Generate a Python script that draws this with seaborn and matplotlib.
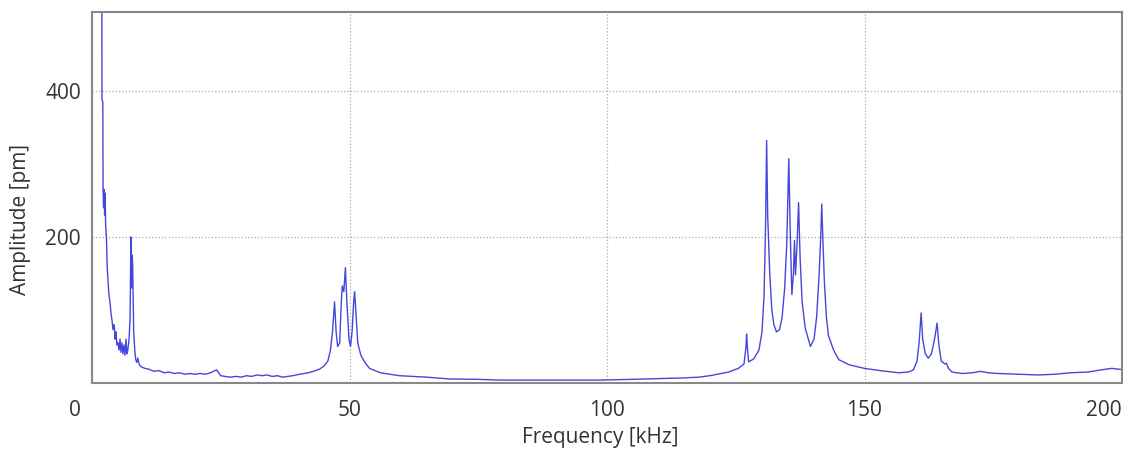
import numpy as np
import pandas as pd
import seaborn as sns
import matplotlib.pyplot as plt
from matplotlib.ticker import MultipleLocator
from matplotlib.transforms import ScaledTranslation

# spectrum points (frequency in kHz, amplitude in pm)
freq = [1.74, 1.90, 1.94, 2.10, 2.15, 2.25, 2.35, 2.45, 2.55, 2.65, 2.80, 2.95,
        3.10, 3.3, 3.5, 3.7, 3.9, 4.07, 4.3, 4.5, 4.65, 4.85, 5.04, 5.25, 5.45,
        5.62, 5.8, 6.0, 6.2, 6.4, 6.6, 6.78, 6.95, 7.2, 7.4, 7.55, 7.65, 7.8,
        7.9, 8.0, 8.1, 8.3, 8.5, 8.7, 8.9, 9.2, 9.6, 10.3, 11, 12, 13, 14,
        15, 16, 17, 18, 19, 20, 21, 22, 23, 24.2, 25, 26.7, 28, 29, 30, 31, 32,
        33, 34, 35, 36, 37, 38, 39, 40.3, 42, 43, 44.2, 45, 45.8, 46.3, 46.7,
        47.1, 47.4, 47.7, 48.1, 48.4, 48.6, 48.9, 49.2, 49.5, 49.9, 50.2, 50.5,
        50.8, 51.0, 51.3, 51.6, 52.2, 53.0, 53.9, 56, 59.7, 65, 69.4, 75, 79.1,
        85, 90, 98.4, 105, 110, 115, 117.8, 120, 123.6, 125.5, 126.6, 127.0,
        127.1, 127.3, 127.5, 128.5, 129.5, 130.1, 130.5, 130.8, 131.0, 131.2,
        131.6, 132.0, 132.4, 132.9, 133.5, 134.0, 134.5, 134.9, 135.3, 135.6,
        135.9, 136.2, 136.4, 136.6, 136.9, 137.2, 137.5, 137.9, 138.5, 139.5,
        140.2, 140.7, 141.2, 141.5, 141.7, 141.9, 142.2, 142.6, 143.0, 144, 145,
        147, 150, 153, 156.6, 158.5, 159.5, 160.2, 160.6, 161.0, 161.3, 161.8,
        162.4, 163.0, 163.6, 164.1, 164.4, 164.9, 165.6, 165.9, 166.3, 167, 169,
        171, 172.5, 174, 176, 180, 183.7, 187, 190, 193.4, 196, 198, 199.2, 200.5]
amp = [600, 600, 388, 385, 264, 240, 265, 230, 260, 215, 200, 160,
       141, 120, 110, 95, 85, 73, 80, 60, 70, 52, 55, 45, 60,
       42, 55, 40, 52, 38, 60, 40, 45, 60, 90, 200, 130, 175,
       162, 110, 70, 45, 32, 28, 34, 25, 22, 20, 19, 16, 17, 14,
       15, 13, 14, 12, 13, 12, 13, 12, 14, 18, 10, 8, 9, 8, 10, 9, 11,
       10, 11, 9, 10, 8, 9, 10, 12, 14, 16, 19, 23, 30, 45, 70,
       111, 70, 50, 55, 110, 133, 125, 158, 110, 60, 50, 70,
       110, 125, 90, 55, 38, 28, 20, 14, 10, 8, 5.5, 5, 4,
       4, 4, 4, 5, 6, 7, 8, 10, 15, 20, 26, 50,
       67, 45, 29, 33, 45, 70, 120, 220, 332, 230,
       150, 100, 80, 70, 73, 90, 130, 190, 307, 200,
       121, 150, 195, 148, 190, 247, 170, 110, 75, 50,
       60, 90, 150, 200, 245, 200, 140, 90, 65, 45, 32,
       25, 20, 17, 14, 15, 18, 30, 55, 96, 60, 40,
       34, 40, 60, 82, 55, 30, 26, 27, 20, 15, 13,
       14, 16, 14, 13, 12, 11, 12, 14, 15, 18, 20, 19, 18]

x_ticks = [0, 50, 100, 150, 200]
y_ticks = [200, 400]

df = pd.DataFrame({"Frequency": freq, "Amplitude": amp})

sns.set_style("white")
plt.rcParams["font.family"] = ["Open Sans", "DejaVu Sans"]

fig = plt.figure(figsize=(11.34, 4.54), dpi=100)
ax = fig.add_axes([92 / 1134, 71 / 454, 1030 / 1134, 371 / 454])

sns.lineplot(data=df, x="Frequency", y="Amplitude", estimator=None,
             color="#4646dc", linewidth=1.0, ax=ax)

ax.set_xlim(0, 200)
ax.set_ylim(0, 508)
ax.set_xticks(x_ticks)
ax.set_yticks(y_ticks)
ax.xaxis.set_minor_locator(MultipleLocator(10))
ax.yaxis.set_minor_locator(MultipleLocator(100))
ax.tick_params(axis="both", which="major", length=0, labelsize=15,
               labelcolor="#333333")
ax.tick_params(axis="x", which="major", pad=12)
ax.tick_params(axis="y", which="major", pad=8)
ax.tick_params(which="minor", direction="in", length=3, color="#aaaaaa")

# edge labels sit a bit off their ticks in the original
labels = ax.get_xticklabels()
labels[0].set_transform(labels[0].get_transform() +
                        ScaledTranslation(-17 / 100, 0, fig.dpi_scale_trans))
labels[-1].set_horizontalalignment("right")

ax.grid(True, which="major", linestyle=":", color="#aaaaaa", linewidth=0.9)
for s in ax.spines.values():
    s.set_color("#888888")
    s.set_linewidth(1.5)

ax.set_xlabel("Frequency [kHz]", fontsize=15, color="#333333")
ax.set_ylabel("Amplitude [pm]", fontsize=15, color="#333333")
ax.xaxis.set_label_coords(0.493, -0.118)
ax.yaxis.set_label_coords(-0.059, 0.44)

fig.savefig("out.png", dpi=100)
